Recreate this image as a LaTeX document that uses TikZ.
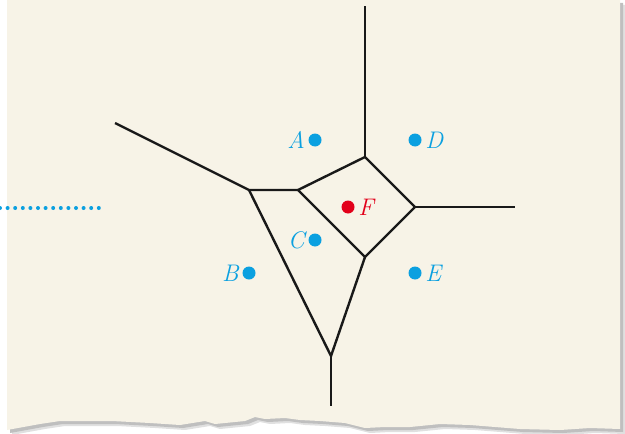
\documentclass[tikz,border=0pt]{standalone}
\usetikzlibrary{calc}
\definecolor{paper}{HTML}{F7F3E7}
\definecolor{siteblue}{HTML}{0BA0E0}
\definecolor{sitered}{HTML}{E2001A}

\begin{document}
\begin{tikzpicture}[x=0.5pt,y=-0.5pt,
  site/.style={circle,fill=siteblue,inner sep=0pt,minimum size=6.5pt},
  lbl/.style={text=siteblue,font=\large\itshape,inner sep=1.5pt},
  edge/.style={line width=1.2pt,black!90}
]
\useasboundingbox (0,0) rectangle (625,433);
% paper with torn bottom edge and shadow
\def\torn{(7,0) -- (620,0) -- (620,429) -- (590,428) -- (560,430) -- (520,429)
  -- (495,427) -- (470,425) -- (440,424) -- (410,427) -- (385,427) -- (365,428)
  -- (345,423) -- (320,421) -- (300,420) -- (285,418) -- (265,419) -- (255,417)
  -- (245,421) -- (235,422) -- (215,424) -- (205,421) -- (180,425) -- (150,423)
  -- (112,421) -- (60,421) -- (40,424) -- (7,430) -- cycle}
\fill[black!12,xshift=2.5pt,yshift=-2.5pt] \torn;
\fill[black!25,xshift=1.5pt,yshift=-1.5pt] \torn;
\fill[paper] \torn;
% dotted line
\draw[siteblue,line width=2pt,line cap=round,dash pattern=on 0pt off 3.8pt] (0,208) -- (103,208);

% voronoi vertices
\coordinate (vt) at (365,157);
\coordinate (vr) at (415,207);
\coordinate (vb) at (365,257);
\coordinate (vl) at (298,190);
\coordinate (vw) at (249,190);
\coordinate (vs) at (331,356);
\coordinate (rt) at (365,6);
\coordinate (rr) at (515,207);
\coordinate (rw) at (115,123);
\coordinate (rs) at (331,406);

\draw[edge] (vt) -- (vr) -- (vb) -- (vl) -- cycle;
\draw[edge] (vt) -- (rt);
\draw[edge] (vr) -- (rr);
\draw[edge] (vl) -- (vw) -- (rw);
\draw[edge] (vw) -- (vs) -- (vb);
\draw[edge] (vs) -- (rs);

% sites
\node[site] (A) at (315,140) {};
\node[site] (D) at (415,140) {};
\node[site,fill=sitered] (F) at (348,207) {};
\node[site] (C) at (315,240) {};
\node[site] (B) at (249,273) {};
\node[site] (E) at (415,273) {};
\node[lbl,left] at (A.west) {A};
\node[lbl,right] at (D.east) {D};
\node[lbl,right,text=sitered] at (F.east) {F};
\node[lbl,left] at (C.west) {C};
\node[lbl,left] at (B.west) {B};
\node[lbl,right] at (E.east) {E};
\end{tikzpicture}
\end{document}
